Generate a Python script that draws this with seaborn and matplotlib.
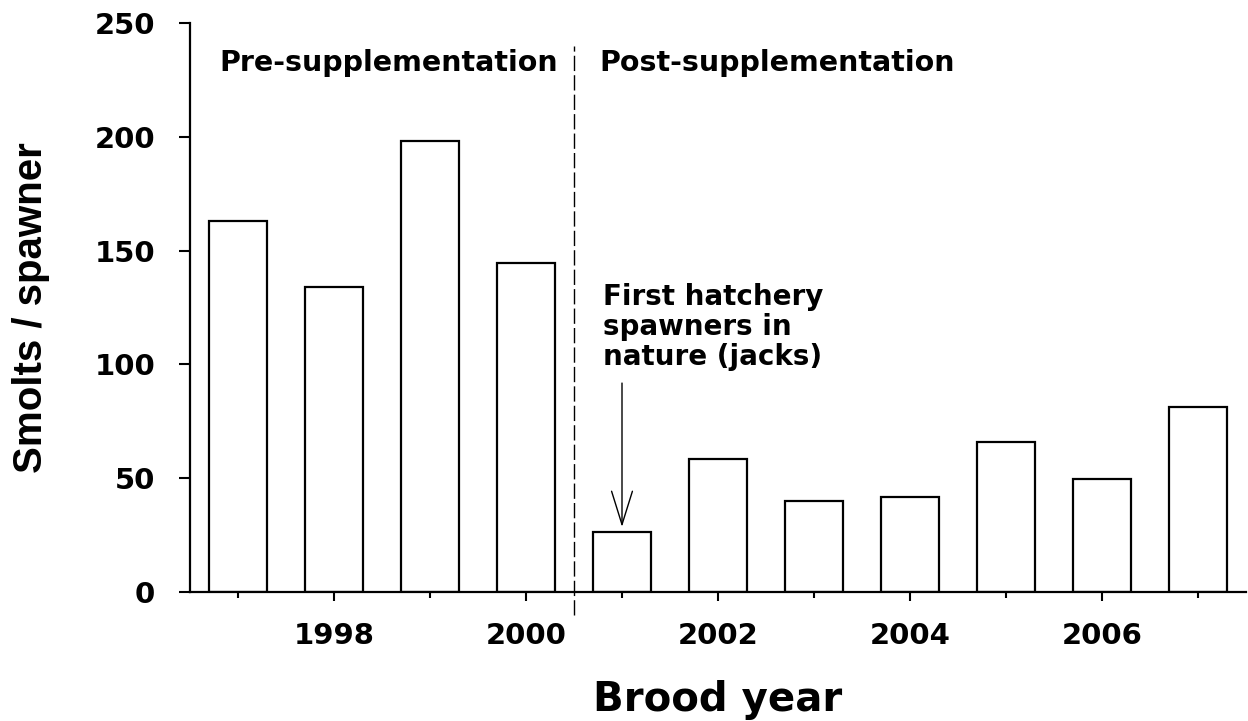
import matplotlib
matplotlib.use("Agg")
import matplotlib.pyplot as plt
import seaborn as sns

# data
years = [1997, 1998, 1999, 2000, 2001, 2002, 2003, 2004, 2005, 2006, 2007]
smolts_per_spawner = [163, 134, 198, 144.5, 26.5, 58.5, 39.8, 41.8, 66, 49.5, 81.5]
major_years = [1998, 2000, 2002, 2004, 2006]
y_ticks = [0, 50, 100, 150, 200, 250]

sns.set_style("ticks")
plt.rcParams["font.family"] = ["DejaVu Sans"]
plt.rcParams["font.weight"] = "bold"
plt.rcParams["text.color"] = "black"
plt.rcParams["axes.labelcolor"] = "black"
plt.rcParams["xtick.color"] = "black"
plt.rcParams["ytick.color"] = "black"

fig = plt.figure(figsize=(12.48, 7.21), dpi=100)
ax = fig.add_axes([190 / 1248, 1 - 592 / 721, 1056 / 1248, 569 / 721])

sns.barplot(x=years, y=smolts_per_spawner, color="white", edgecolor="black",
            linewidth=1.6, width=0.6, saturation=1, ax=ax)

ax.set_xlim(-0.5, len(years) - 0.5)
ax.set_ylim(0, 250)
ax.set_yticks(y_ticks)
ax.set_yticklabels([str(v) for v in y_ticks], fontsize=21, fontweight="bold")

major_idx = [years.index(y) for y in major_years]
minor_idx = [i for i in range(len(years)) if i not in major_idx]
ax.set_xticks(major_idx)
ax.set_xticklabels([str(y) for y in major_years], fontsize=21, fontweight="bold")
ax.set_xticks(minor_idx, minor=True)

ax.tick_params(axis="x", which="major", length=6.5, width=1.5, pad=15, colors="black")
ax.tick_params(axis="x", which="minor", length=4, width=1.5, colors="black")
ax.tick_params(axis="y", which="major", length=8, width=1.5, pad=17, colors="black")

for side in ["top", "right"]:
    ax.spines[side].set_visible(False)
for side in ["left", "bottom"]:
    ax.spines[side].set_linewidth(1.6)
    ax.spines[side].set_color("black")

ax.set_xlabel("Brood year", fontsize=29, fontweight="bold", color="black")
ax.xaxis.set_label_coords(0.5, -0.155)
ax.set_ylabel("Smolts / spawner", fontsize=29, fontweight="bold", color="black",
              fontfamily=["Liberation Sans", "DejaVu Sans"])
ax.yaxis.set_label_coords(-0.133, 0.5)

# split between pre and post supplementation
split_x = 3.5
ax.plot([split_x, split_x], [-10, 240], color="black", lw=1, dashes=(11, 3),
        clip_on=False)

ax.text(-0.19, 229, "Pre-supplementation", fontsize=20.5, fontweight="bold",
        color="black", ha="left", va="baseline")
ax.text(3.76, 229, "Post-supplementation", fontsize=20.5, fontweight="bold",
        color="black", ha="left", va="baseline")

ax.text(3.80, 135.8, "First hatchery\nspawners in\nnature (jacks)", fontsize=20,
        fontweight="bold", color="black", ha="left", va="top", linespacing=1.1)
ax.annotate("", xy=(4, 28.6), xytext=(4, 91.8),
            arrowprops=dict(arrowstyle="->,head_length=2.4,head_width=0.75",
                            color="black", lw=1, shrinkA=0, shrinkB=0))

fig.savefig("out.png", dpi=100)
